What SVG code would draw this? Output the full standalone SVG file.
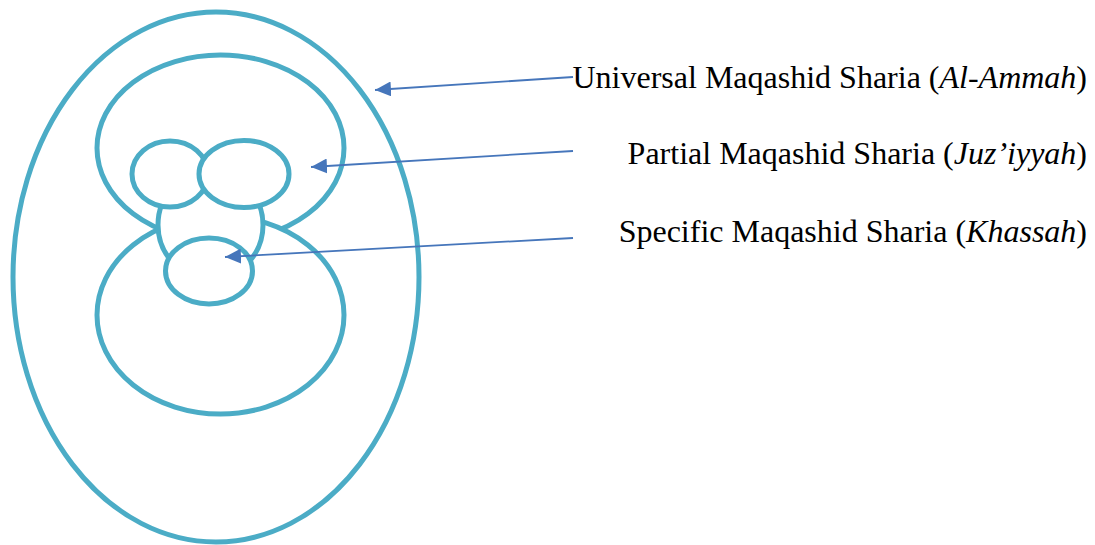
<svg xmlns="http://www.w3.org/2000/svg" width="1095" height="545" viewBox="0 0 1095 545">
<style>
.shape{fill:#FFFFFF;stroke:#4BACC6;stroke-width:5}
.conn{stroke:#4676BB;stroke-width:1.8;fill:none}
.lbl{font-family:"Liberation Serif","Times New Roman",serif;font-size:32px;fill:#000000;text-anchor:end}
</style>
<defs>
<marker id="ah" markerUnits="userSpaceOnUse" markerWidth="16" markerHeight="15" refX="16" refY="7.5" orient="auto">
<path d="M0,0 L16,7.5 L0,15 z" fill="#4676BB"/>
</marker>
</defs>
<rect width="1095" height="545" fill="#FFFFFF"/>
<g id="universal"><ellipse class="shape" cx="216" cy="277" rx="203" ry="265"/></g>
<g id="upper"><ellipse class="shape" cx="220.5" cy="148" rx="123.5" ry="93"/></g>
<g id="lower"><ellipse class="shape" cx="220.5" cy="315" rx="123.5" ry="99"/></g>
<g id="middle"><ellipse class="shape" cx="210.5" cy="225" rx="52.5" ry="54"/></g>
<g id="small-left"><ellipse class="shape" cx="170" cy="174" rx="38" ry="33"/></g>
<g id="small-right"><ellipse class="shape" cx="244" cy="174" rx="45" ry="33.5"/></g>
<g id="small-bottom"><ellipse class="shape" cx="209" cy="271" rx="43.5" ry="33"/></g>
<g id="connectors">
<line class="conn" x1="573" y1="77" x2="375" y2="90" marker-end="url(#ah)"/>
<line class="conn" x1="573" y1="151" x2="311" y2="167" marker-end="url(#ah)"/>
<line class="conn" x1="573" y1="238" x2="225" y2="257" marker-end="url(#ah)"/>
</g>
<g id="labels">
<text class="lbl" x="1087" y="88">Universal Maqashid Sharia (<tspan font-style="italic">Al-Ammah</tspan>)</text>
<text class="lbl" x="1087" y="164">Partial Maqashid Sharia (<tspan font-style="italic">Juz’iyyah</tspan>)</text>
<text class="lbl" x="1087" y="242">Specific Maqashid Sharia (<tspan font-style="italic">Khassah</tspan>)</text>
</g>
</svg>
